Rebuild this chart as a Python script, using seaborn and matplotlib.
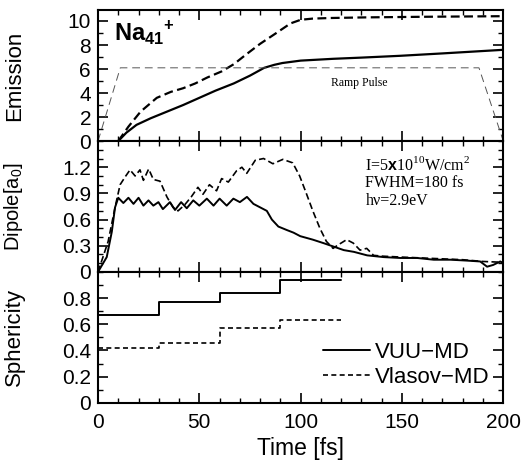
import matplotlib
matplotlib.use("Agg")
import matplotlib.pyplot as plt
import matplotlib.ticker as mticker
import seaborn as sns

# Emission (top panel)
emis_t_vuu = [10, 14, 19, 26, 34, 42, 50, 58, 67, 75, 82, 87, 91, 100, 116, 130, 149, 170, 185, 200]
emis_vuu = [0, 0.7, 1.35, 1.9, 2.45, 3.0, 3.6, 4.2, 4.8, 5.45, 6.1, 6.35, 6.5, 6.7, 6.85, 6.95, 7.1, 7.3, 7.45, 7.6]
emis_t_vla = [10, 15, 21, 29, 36, 42, 48, 54, 61, 67, 73, 80, 88, 95, 100, 106, 115, 132, 160, 200]
emis_vla = [0, 1.2, 2.45, 3.6, 4.1, 4.4, 4.8, 5.3, 5.8, 6.4, 7.2, 8.1, 9.0, 9.8, 10.1, 10.2, 10.25, 10.3, 10.35, 10.4]
ramp_t = [0, 11, 188, 200]
ramp_v = [0, 6.1, 6.1, 0]

# Dipole (middle panel)
dip_t_vuu = [0, 4.3, 6.8, 8.4, 10, 12.5, 15, 17.5, 20, 22.4, 24.9, 27.3, 29.8, 32, 35.5, 38, 41, 43.8,
             47, 50, 53.7, 57, 60, 63.5, 66.8, 70, 73.5, 76.7, 80, 83.3, 85.8, 89, 93.2, 96.5, 99.8,
             106, 111.3, 116.3, 121.3, 126.3, 132.8, 141, 149.2, 157.5, 165.7, 174, 182, 188.6, 192,
             195, 198.5, 200]
dip_vuu = [0, 0.17, 0.46, 0.74, 0.85, 0.79, 0.85, 0.78, 0.85, 0.76, 0.82, 0.76, 0.8, 0.72, 0.8, 0.71,
           0.8, 0.73, 0.82, 0.76, 0.84, 0.76, 0.84, 0.76, 0.84, 0.8, 0.86, 0.78, 0.74, 0.70, 0.6, 0.52,
           0.48, 0.45, 0.41, 0.37, 0.33, 0.29, 0.25, 0.23, 0.19, 0.17, 0.16, 0.16, 0.14, 0.14, 0.13,
           0.12, 0.06, 0.08, 0.12, 0.1]
dip_t_vla = [0, 5, 8.4, 10.9, 13.4, 15.8, 18.3, 20.7, 22.4, 25, 27.3, 30.6, 34, 37, 39.5, 42.8, 46,
             49.3, 51.8, 55, 58.5, 61, 64.3, 68.4, 71, 73.4, 77.6, 81.7, 86.3, 91.2, 96.1, 99.5, 102.8,
             106, 109.5, 112.7, 116, 118.5, 122.7, 126, 129.3, 132.6, 136, 141, 150, 160, 170, 180,
             190, 200]
dip_vla = [0, 0.35, 0.74, 1.0, 1.09, 1.17, 1.1, 1.17, 1.05, 1.18, 1.06, 1.04, 0.86, 0.74, 0.7, 0.77,
           0.86, 0.97, 0.89, 1.0, 0.93, 1.07, 1.03, 1.16, 1.2, 1.13, 1.28, 1.3, 1.24, 1.29, 1.25, 1.1,
           0.9, 0.7, 0.5, 0.35, 0.27, 0.31, 0.37, 0.33, 0.25, 0.27, 0.19, 0.18, 0.17, 0.16, 0.15, 0.14,
           0.12, 0.11]

# Sphericity (bottom panel)
sph_t = [0, 30, 60, 90, 120]
sph_vuu = [0.67, 0.77, 0.84, 0.94, 0.94]
sph_vla = [0.42, 0.46, 0.57, 0.63, 0.63]

sns.set_style("ticks")
plt.rcParams['font.family'] = ['Liberation Sans', 'DejaVu Sans']
plt.rcParams.update({
    'xtick.direction': 'in', 'ytick.direction': 'in',
    'xtick.top': True, 'ytick.right': True,
    'xtick.major.size': 7, 'ytick.major.size': 7,
    'xtick.minor.size': 3.5, 'ytick.minor.size': 3.5,
    'xtick.major.width': 1.2, 'ytick.major.width': 1.2,
    'xtick.minor.width': 1.0, 'ytick.minor.width': 1.0,
    'axes.linewidth': 1.5, 'axes.edgecolor': 'black',
    'xtick.color': 'black', 'ytick.color': 'black',
    'text.color': 'black', 'axes.labelcolor': 'black',
    'xtick.labelcolor': 'black', 'ytick.labelcolor': 'black',
    'font.size': 15,
    'mathtext.fontset': 'custom', 'mathtext.rm': 'Liberation Serif',
    'mathtext.sf': 'Liberation Sans', 'mathtext.bf': 'Liberation Sans:bold',
})

fig, axes = plt.subplots(3, 1, figsize=(5.27, 4.63), dpi=100, sharex=True)
fig.subplots_adjust(left=0.186, right=0.955, top=0.978, bottom=0.13, hspace=0)
ax1, ax2, ax3 = axes

serif = ['Liberation Serif', 'DejaVu Serif']

# --- Emission
sns.lineplot(x=emis_t_vuu, y=emis_vuu, ax=ax1, color='black', lw=1.6)
sns.lineplot(x=emis_t_vla, y=emis_vla, ax=ax1, color='black', lw=1.6, linestyle=(0, (4, 2)))
sns.lineplot(x=ramp_t, y=ramp_v, ax=ax1, color='#555555', lw=0.7, linestyle=(0, (8, 5)))
ax1.set_ylim(0, 10.9)
ax1.set_yticks([0, 2, 4, 6, 8, 10])
ax1.yaxis.set_minor_locator(mticker.MultipleLocator(1))
ax1.set_ylabel("Emission", fontsize=16)
ax1.text(8, 9.0, r"$\mathbf{Na_{41}}^{\mathbf{+}}$", fontsize=17, va='center')
ax1.text(129, 4.8, "Ramp Pulse", fontsize=8.5, family=serif, ha='center', va='center')

# --- Dipole
sns.lineplot(x=dip_t_vuu, y=dip_vuu, ax=ax2, color='black', lw=1.4)
sns.lineplot(x=dip_t_vla, y=dip_vla, ax=ax2, color='black', lw=1.2, linestyle=(0, (4, 2)))
ax2.set_ylim(0, 1.5)
ax2.set_yticks([0, 0.3, 0.6, 0.9, 1.2])
ax2.yaxis.set_minor_locator(mticker.MultipleLocator(0.1))
ax2.set_ylabel(r"Dipole[a$_\mathsf{0}$]", fontsize=14.5)
ax2.text(132, 1.23, r"I=5$\mathbf{x}$10$^{10}$W/cm$^2$", fontsize=11.5, family=serif, va='center')
ax2.text(132, 1.02, "FWHM=180 fs", fontsize=11.5, family=serif, va='center')
ax2.text(132, 0.81, "hν=2.9eV", fontsize=11.5, family=serif, va='center')

# --- Sphericity
sns.lineplot(x=sph_t, y=sph_vuu, ax=ax3, color='black', lw=1.4, drawstyle='steps-post', label='VUU−MD')
sns.lineplot(x=sph_t, y=sph_vla, ax=ax3, color='black', lw=1.2, drawstyle='steps-post',
             linestyle=(0, (3, 2)), label='Vlasov−MD')
ax3.set_ylim(0, 1.0)
ax3.set_yticks([0, 0.2, 0.4, 0.6, 0.8])
ax3.yaxis.set_minor_locator(mticker.MultipleLocator(0.1))
ax3.set_ylabel("Sphericity", fontsize=16)
ax3.set_xlabel("Time [fs]", fontsize=16.5, labelpad=4)
ax3.legend(loc='lower right', bbox_to_anchor=(1.0, 0.01), frameon=False, fontsize=16,
           handlelength=2.1, handletextpad=0.25, labelspacing=0.2, borderaxespad=0.2)

fmt = mticker.FuncFormatter(lambda v, p: "0" if abs(v) < 1e-9 else f"{v:g}")
for ax in axes:
    ax.set_xlim(0, 200)
    ax.xaxis.set_major_locator(mticker.MultipleLocator(50))
    ax.xaxis.set_minor_locator(mticker.MultipleLocator(10))
    ax.yaxis.set_major_formatter(fmt)
    ax.tick_params(which='both', top=True, right=True, labelsize=15)
    ax.tick_params(axis='x', which='major', pad=7)
    ax.tick_params(axis='y', which='major', pad=5)
    ax.yaxis.set_label_coords(-0.18, 0.5)
    for s in ax.spines.values():
        s.set_visible(True)

fig.savefig("out.png", dpi=100)
